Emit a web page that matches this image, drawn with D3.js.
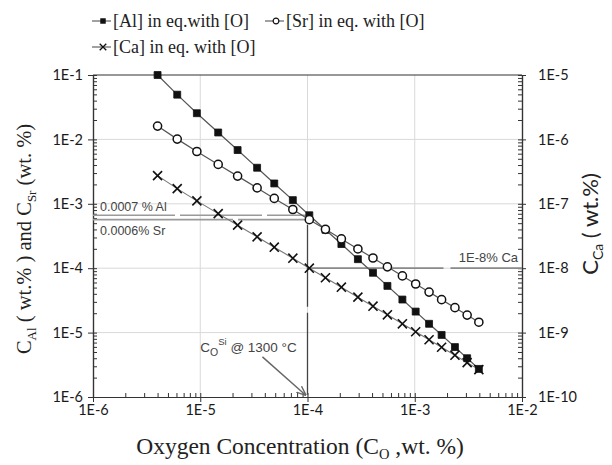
<!DOCTYPE html>
<html><head><meta charset="utf-8">
<script src="https://cdn.jsdelivr.net/npm/d3@7"></script>
<style>body{margin:0;background:#fff}</style>
</head><body>
<svg id="c" width="612" height="465"></svg>
<script>
// ---- data ----
const oxygen = [4e-6,6.1e-6,9.3e-6,1.47e-5,2.23e-5,3.39e-5,4.9e-5,7.3e-5,1.04e-4,1.47e-4,2.07e-4,2.95e-4,4.08e-4,5.56e-4,7.67e-4,1.02e-3,1.36e-3,1.78e-3,2.37e-3,3.08e-3,3.96e-3];
const alConc = [0.1,0.0495,0.0255,0.0128,0.00683,0.00363,0.00207,0.00114,6.64e-4,3.95e-4,2.37e-4,1.38e-4,8.49e-5,5.31e-5,3.26e-5,2.12e-5,1.37e-5,9.2e-6,5.96e-6,4.0e-6,2.73e-6];
const srConc = [0.0161,0.0101,0.00649,0.00409,0.00269,0.001765,0.001212,8.15e-4,5.67e-4,4.01e-4,2.85e-4,1.99e-4,1.44e-4,1.05e-4,7.59e-5,5.68e-5,4.26e-5,3.25e-5,2.44e-5,1.87e-5,1.45e-5];
const caConc = [2.74e-7,1.72e-7,1.11e-7,7.04e-8,4.66e-8,3.07e-8,2.12e-8,1.43e-8,1.0e-8,7.1e-9,5.07e-9,3.55e-9,2.57e-9,1.89e-9,1.37e-9,1.03e-9,7.74e-10,5.93e-10,4.46e-10,3.42e-10,2.66e-10];
const xTicks = [1e-6,1e-5,1e-4,1e-3,1e-2];
const xTickLabels = ["1E-6","1E-5","1E-4","1E-3","1E-2"];
const yLeftTicks = [1e-6,1e-5,1e-4,1e-3,1e-2,1e-1];
const yLeftLabels = ["1E-6","1E-5","1E-4","1E-3","1E-2","1E-1"];
const yRightTicks = [1e-10,1e-9,1e-8,1e-7,1e-6,1e-5];
const yRightLabels = ["1E-10","1E-9","1E-8","1E-7","1E-6","1E-5"];
const seriesNames = ["[Al] in eq.with [O]","[Sr] in eq. with [O]","[Ca] in eq. with [O]"];
const markO = 1e-4, markCa = 1e-8;
const annoLabels = ["0.0007 % Al","0.0006% Sr","1E-8% Ca"];

// ---- layout ----
const L=93, R=522, T=75, B=397;
const svg = d3.select("#c");
const x = d3.scaleLog().domain([1e-6,1e-2]).range([L,R]);
const yL = d3.scaleLog().domain([1e-6,1e-1]).range([B,T]);
const yR = d3.scaleLog().domain([1e-10,1e-5]).range([B,T]);

function minors(dom){
  const out=[]; const a=Math.round(Math.log10(dom[0])), b=Math.round(Math.log10(dom[1]));
  for(let e=a;e<b;e++) for(let k=2;k<=9;k++) out.push(k*Math.pow(10,e));
  return out;
}
const tickFont = "Lato, 'Open Sans', sans-serif";

// gridlines
const grid = svg.append("g").attr("stroke","#d9d9d9").attr("stroke-width",1);
grid.selectAll(".gx").data(xTicks.slice(1,-1)).join("line")
  .attr("x1",d=>x(d)).attr("x2",d=>x(d)).attr("y1",T).attr("y2",B);
grid.selectAll(".gy").data(yLeftTicks.slice(1,-1)).join("line")
  .attr("y1",d=>yL(d)).attr("y2",d=>yL(d)).attr("x1",L).attr("x2",R);

// top border
svg.append("line").attr("x1",L).attr("x2",R).attr("y1",T).attr("y2",T).attr("stroke","#333").attr("stroke-width",1.2);

function styleAxis(g){
  g.select(".domain").attr("stroke","#333").attr("stroke-width",1.2);
  g.selectAll(".tick line").attr("stroke","#333");
  g.selectAll("text").attr("font-family",tickFont).attr("font-size",14.5).attr("fill","#1a1a1a");
}
// bottom axis
svg.append("g").attr("transform",`translate(0,${B})`)
  .call(d3.axisBottom(x).tickValues(xTicks).tickFormat((d,i)=>xTickLabels[i]).tickSizeInner(5).tickSizeOuter(0).tickPadding(3))
  .call(styleAxis);
svg.append("g").attr("transform",`translate(0,${B})`)
  .call(d3.axisBottom(x).tickValues(minors(x.domain()).concat(xTicks)).tickFormat("").tickSizeInner(-4).tickSizeOuter(0))
  .call(styleAxis);
// left axis
svg.append("g").attr("transform",`translate(${L},0)`)
  .call(d3.axisLeft(yL).tickValues(yLeftTicks).tickFormat((d,i)=>yLeftLabels[i]).tickSizeInner(5).tickSizeOuter(0).tickPadding(5))
  .call(styleAxis);
svg.append("g").attr("transform",`translate(${L},0)`)
  .call(d3.axisLeft(yL).tickValues(minors(yL.domain()).concat(yLeftTicks)).tickFormat("").tickSizeInner(-4).tickSizeOuter(0))
  .call(styleAxis);
// right axis
svg.append("g").attr("transform",`translate(${R},0)`)
  .call(d3.axisRight(yR).tickValues(yRightTicks).tickFormat((d,i)=>yRightLabels[i]).tickSizeInner(4).tickSizeOuter(0).tickPadding(12))
  .call(styleAxis);
svg.append("g").attr("transform",`translate(${R},0)`)
  .call(d3.axisRight(yR).tickValues(minors(yR.domain()).concat(yRightTicks)).tickFormat("").tickSizeInner(-4).tickSizeOuter(0))
  .call(styleAxis);

// annotation lines
const ann = svg.append("g").attr("fill","none");
ann.append("line").attr("x1",L).attr("x2",x(oxygen[8])).attr("y1",yL(alConc[8])).attr("y2",yL(alConc[8]))
  .attr("stroke","#9a9a9a").attr("stroke-width",1.6).attr("stroke-dasharray","82,5");
ann.append("line").attr("x1",L).attr("x2",x(oxygen[8])).attr("y1",yL(srConc[8])).attr("y2",yL(srConc[8]))
  .attr("stroke","#9a9a9a").attr("stroke-width",1.6).attr("stroke-dasharray","140,5");
ann.append("line").attr("x1",x(markO)).attr("x2",R).attr("y1",yR(markCa)).attr("y2",yR(markCa))
  .attr("stroke","#8a8a8a").attr("stroke-width",1.8).attr("stroke-dasharray","136,7");
ann.append("line").attr("x1",x(markO)).attr("x2",x(markO)).attr("y1",yL(srConc[8])+5).attr("y2",B)
  .attr("stroke","#444").attr("stroke-width",1.3).attr("stroke-dasharray","82,6");

// series lines
const lineL = d3.line().x((d,i)=>x(oxygen[i])).y(d=>yL(d));
const lineR = d3.line().x((d,i)=>x(oxygen[i])).y(d=>yR(d));
svg.append("path").attr("d",lineL(alConc)).attr("fill","none").attr("stroke","#555").attr("stroke-width",1.2);
svg.append("path").attr("d",lineL(srConc)).attr("fill","none").attr("stroke","#555").attr("stroke-width",1.2);
svg.append("path").attr("d",lineR(caConc)).attr("fill","none").attr("stroke","#777").attr("stroke-width",1.1);

// markers
const sq = d3.symbol().type(d3.symbolSquare).size(48);
const cr = d3.symbol().type(d3.symbolCircle).size(52);
const xs = d3.symbol().type(d3.symbolX).size(55);
svg.append("g").selectAll("path").data(caConc).join("path")
  .attr("transform",(d,i)=>`translate(${x(oxygen[i])},${yR(d)})`)
  .attr("d",xs).attr("fill","none").attr("stroke","#111").attr("stroke-width",1.6);
svg.append("g").selectAll("path").data(alConc).join("path")
  .attr("transform",(d,i)=>`translate(${x(oxygen[i])},${yL(d)})`)
  .attr("d",sq).attr("fill","#111").attr("stroke","#111").attr("stroke-width",0.8);
svg.append("g").selectAll("path").data(srConc).join("path")
  .attr("transform",(d,i)=>`translate(${x(oxygen[i])},${yL(d)})`)
  .attr("d",cr).attr("fill","#fff").attr("stroke","#111").attr("stroke-width",1.5);

// annotation texts
const af = "'Liberation Sans', Arial, sans-serif";
svg.append("text").attr("x",L+7).attr("y",yL(alConc[8])-4).text(annoLabels[0])
  .attr("font-family",af).attr("font-size",12.5).attr("fill","#444");
svg.append("text").attr("x",L+7).attr("y",yL(srConc[8])+15).text(annoLabels[1])
  .attr("font-family",af).attr("font-size",12.5).attr("fill","#444");
svg.append("text").attr("x",R-4).attr("y",yR(markCa)-6).attr("text-anchor","end").text(annoLabels[2])
  .attr("font-family",af).attr("font-size",13).attr("fill","#444");
const tC = svg.append("text").attr("x",x(1e-5)).attr("y",yL(5e-6)).attr("font-family",af).attr("font-size",13.5).attr("fill","#444");
tC.append("tspan").text("C");
tC.append("tspan").attr("font-size",10.5).attr("dy",4).text("O");
tC.append("tspan").attr("font-size",9.5).attr("dy",-11).text("Si");
tC.append("tspan").attr("dy",7).text(" @ 1300 °C");
// arrow
svg.append("defs").append("marker").attr("id","ah").attr("viewBox","0 0 10 10").attr("refX",9).attr("refY",5)
  .attr("markerWidth",7).attr("markerHeight",7).attr("orient","auto")
  .append("path").attr("d","M0,1 L10,5 L0,9").attr("fill","none").attr("stroke","#666").attr("stroke-width",1.4);
svg.append("line").attr("x1",x(3.8e-5)).attr("y1",yL(4.2e-6)).attr("x2",x(markO)-2).attr("y2",B-2)
  .attr("stroke","#666").attr("stroke-width",1.4).attr("marker-end","url(#ah)");

// axis titles
const serif = "'Liberation Serif', 'Times New Roman', serif";
const tx = svg.append("text").attr("x",300).attr("y",454).attr("text-anchor","middle")
  .attr("font-family",serif).attr("font-size",23.5).attr("fill","#222");
tx.append("tspan").text("Oxygen Concentration (C");
tx.append("tspan").attr("font-size",14.5).attr("dy",5).text("O");
tx.append("tspan").attr("dy",-5).text(" ,wt. %)");

const tl = svg.append("text").attr("transform","translate(31,239) rotate(-90)").attr("text-anchor","middle")
  .attr("font-family",serif).attr("font-size",20.5).attr("fill","#222");
tl.append("tspan").text("C");
tl.append("tspan").attr("font-size",13).attr("dy",5).text("Al");
tl.append("tspan").attr("dy",-5).text(" ( wt.% ) and C");
tl.append("tspan").attr("font-size",13).attr("dy",5).text("Sr");
tl.append("tspan").attr("dy",-5).text(" (wt. %)");

const tr = svg.append("text").attr("transform","translate(598,224) rotate(-90)").attr("text-anchor","middle")
  .attr("font-family","Lato, sans-serif").attr("font-size",22).attr("fill","#222");
tr.append("tspan").text("C");
tr.append("tspan").attr("font-size",14).attr("dy",5).text("Ca");
tr.append("tspan").attr("dy",-5).text("  ( wt.%)");

// legend
const lg = svg.append("g").attr("font-family",serif).attr("font-size",18).attr("fill","#222");
const legendItems = [
  {name:seriesNames[0], sym:"sq", lx:92, ly:21},
  {name:seriesNames[1], sym:"ci", lx:265, ly:21},
  {name:seriesNames[2], sym:"x", lx:92, ly:47}
];
legendItems.forEach(it=>{
  lg.append("line").attr("x1",it.lx).attr("x2",it.lx+19).attr("y1",it.ly).attr("y2",it.ly).attr("stroke","#555").attr("stroke-width",1.1);
  const p = lg.append("path").attr("transform",`translate(${it.lx+11},${it.ly})`);
  if(it.sym==="sq") p.attr("d",d3.symbol().type(d3.symbolSquare).size(30)()).attr("fill","#111");
  else if(it.sym==="ci") p.attr("d",d3.symbol().type(d3.symbolCircle).size(26)()).attr("fill","#fff").attr("stroke","#111").attr("stroke-width",1.2);
  else p.attr("d",d3.symbol().type(d3.symbolX).size(30)()).attr("fill","none").attr("stroke","#111").attr("stroke-width",1.3);
  lg.append("text").attr("x",it.lx+21).attr("y",it.ly+6).text(it.name);
});
</script>
</body></html>
